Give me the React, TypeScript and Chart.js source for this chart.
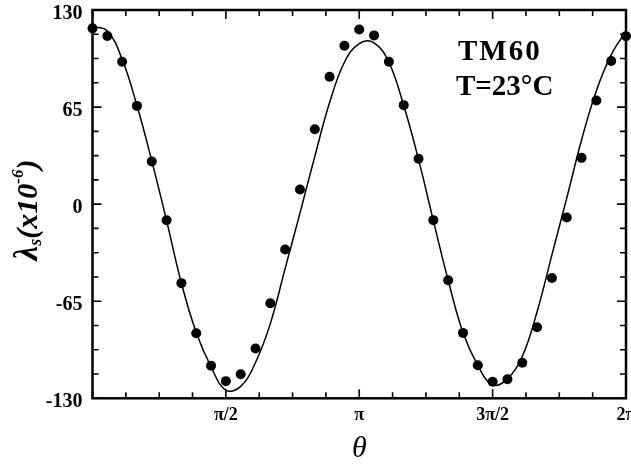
import React, { useEffect, useRef } from 'react';
import { Chart, registerables } from 'chart.js';

Chart.register(...registerables);

// ---- data (angles in degrees, values in 1e-6) ----
const thetaDeg = [0, 10, 20, 30, 40, 50, 60, 70, 80, 90, 100, 110, 120, 130, 140, 150, 160, 170, 180,
  190, 200, 210, 220, 230, 240, 250, 260, 270, 280, 290, 300, 310, 320, 330, 340, 350, 360];
const measuredLambda = [117.7, 112.6, 95.3, 65.8, 28.6, -10.8, -52.9, -86.4, -108.2, -118.5, -113.9, -96.7,
  -66.3, -30.4, 9.8, 50.1, 85.3, 106.1, 117.0, 113.0, 95.3, 66.3, 30.4, -10.7, -50.9, -86.2, -107.9,
  -118.9, -117.3, -106.2, -82.4, -49.4, -8.9, 31.0, 69.4, 95.8, 112.5];
const fittedLambda = [119, 116, 97, 66, 29, -11, -53, -86, -109, -124.5, -122, -106, -80, -43, -6, 32, 68,
  95, 107.5, 108, 95, 66, 30, -11, -51, -86, -108, -121, -117, -102, -72, -34, 4, 43, 76, 100, 116];

const yTickValues = [-130, -65, 0, 65, 130];
const yMinorTickValues = [-130, -113.75, -97.5, -81.25, -65, -48.75, -32.5, -16.25, 0, 16.25, 32.5, 48.75,
  65, 81.25, 97.5, 113.75, 130];
const xTickValues = [90, 180, 270, 360];
const xTickLabels = ['π/2', 'π', '3π/2', '2π'];
const xMinorTickValues = [0, 22.5, 45, 67.5, 90, 112.5, 135, 157.5, 180, 202.5, 225, 247.5, 270, 292.5,
  315, 337.5, 360];
const annotationLines = ['TM60', 'T=23°C'];
const xTitle = 'θ';
const yTitleParts = ['λ', 's', '(x10', '-6', ')'];

const SERIF = '"Liberation Serif", "Times New Roman", serif';

const framePlugin = {
  id: 'frameAndText',
  afterDatasetsDraw(chart: any) {
    const { ctx, chartArea: a, scales } = chart;
    const xs = scales.x;
    const ys = scales.y;
    ctx.save();
    ctx.strokeStyle = '#000';
    ctx.lineWidth = 2.5;
    ctx.strokeRect(a.left, a.top, a.right - a.left, a.bottom - a.top);
    ctx.lineWidth = 1.6;
    ctx.beginPath();
    xMinorTickValues.forEach((v) => {
      const px = xs.getPixelForValue(v);
      const len = xTickValues.includes(v) ? 9 : 6;
      ctx.moveTo(px, a.bottom);
      ctx.lineTo(px, a.bottom - len);
      ctx.moveTo(px, a.top);
      ctx.lineTo(px, a.top + len);
    });
    yMinorTickValues.forEach((v) => {
      const py = ys.getPixelForValue(v);
      const len = yTickValues.includes(v) ? 9 : 6;
      ctx.moveTo(a.left, py);
      ctx.lineTo(a.left + len, py);
      ctx.moveTo(a.right, py);
      ctx.lineTo(a.right - len, py);
    });
    ctx.stroke();

    // annotation
    ctx.fillStyle = '#000';
    ctx.textAlign = 'left';
    ctx.textBaseline = 'alphabetic';
    ctx.font = `bold 29px ${SERIF}`;
    (ctx as any).letterSpacing = '2px';
    ctx.fillText(annotationLines[0], 458, 60);
    (ctx as any).letterSpacing = '0px';
    ctx.fillText(annotationLines[1], 456, 95);

    // x title
    ctx.font = `italic 30px ${SERIF}`;
    ctx.textAlign = 'center';
    ctx.textBaseline = 'middle';
    ctx.fillText(xTitle, (a.left + a.right) / 2, 449);

    // y title with subscript / superscript
    const parts = [
      { t: yTitleParts[0], size: 33, dy: 0 },
      { t: yTitleParts[1], size: 18, dy: 4 },
      { t: yTitleParts[2], size: 30, dy: 0 },
      { t: yTitleParts[3], size: 17, dy: -14 },
      { t: yTitleParts[4], size: 30, dy: 0 },
    ];
    ctx.translate(37, 210);
    ctx.rotate(-Math.PI / 2);
    ctx.textAlign = 'left';
    ctx.textBaseline = 'alphabetic';
    let total = 0;
    const widths: number[] = [];
    parts.forEach((p) => {
      ctx.font = `italic bold ${p.size}px ${SERIF}`;
      const w = ctx.measureText(p.t).width;
      widths.push(w);
      total += w;
    });
    let cx = -total / 2;
    parts.forEach((p, i) => {
      ctx.font = `italic bold ${p.size}px ${SERIF}`;
      ctx.fillText(p.t, cx, p.dy);
      cx += widths[i];
    });
    ctx.restore();
  },
};

export default function App() {
  const canvasRef = useRef<HTMLCanvasElement | null>(null);

  useEffect(() => {
    if (!canvasRef.current) return;
    Chart.defaults.font.family = SERIF;
    Chart.defaults.color = '#000';
    const chart = new Chart(canvasRef.current, {
      type: 'line',
      data: {
        datasets: [
          {
            label: 'fit',
            data: thetaDeg.map((t, i) => ({ x: t, y: fittedLambda[i] })),
            borderColor: '#000',
            borderWidth: 1.5,
            pointRadius: 0,
            tension: 0.4,
            fill: false,
          },
          {
            label: 'measured',
            data: thetaDeg.map((t, i) => ({ x: t, y: measuredLambda[i] })),
            showLine: false,
            pointRadius: 5,
            pointBackgroundColor: '#000',
            pointBorderColor: '#000',
            pointBorderWidth: 0,
            clip: false as any,
          },
        ],
      },
      options: {
        responsive: false,
        animation: false,
        layout: { padding: { left: 0, right: 3.8, top: 10, bottom: 0 } },
        plugins: { legend: { display: false }, tooltip: { enabled: false } },
        scales: {
          x: {
            type: 'linear',
            min: 0,
            max: 360,
            grid: { display: false, drawTicks: false },
            border: { display: false },
            afterBuildTicks: (s: any) => {
              s.ticks = xTickValues.map((v) => ({ value: v }));
            },
            afterFit: (s: any) => {
              s.height = 464 - 398.3;
              s.paddingLeft = 0;
              s.paddingRight = 0;
            },
            ticks: {
              padding: 6,
              maxRotation: 0,
              autoSkip: false,
              font: { size: 18, weight: 'bold' },
              callback: (v: any) => {
                const i = xTickValues.indexOf(Number(v));
                return i >= 0 ? xTickLabels[i] : '';
              },
            },
          },
          y: {
            type: 'linear',
            min: -130,
            max: 130,
            grid: { display: false, drawTicks: false },
            border: { display: false },
            afterBuildTicks: (s: any) => {
              s.ticks = yTickValues.map((v) => ({ value: v }));
            },
            afterFit: (s: any) => {
              s.width = 92.5;
              s.paddingTop = 0;
              s.paddingBottom = 0;
            },
            ticks: {
              padding: 10,
              labelOffset: 3.5,
              autoSkip: false,
              font: { size: 20, weight: 'bold' },
              callback: (v: any) => String(v),
            },
          },
        },
      },
      plugins: [framePlugin],
    } as any);
    return () => chart.destroy();
  }, []);

  return (
    <div style={{ position: 'fixed', left: 0, top: 0, width: 631, height: 464, background: '#fff' }}>
      <canvas ref={canvasRef} width={631} height={464} />
    </div>
  );
}
